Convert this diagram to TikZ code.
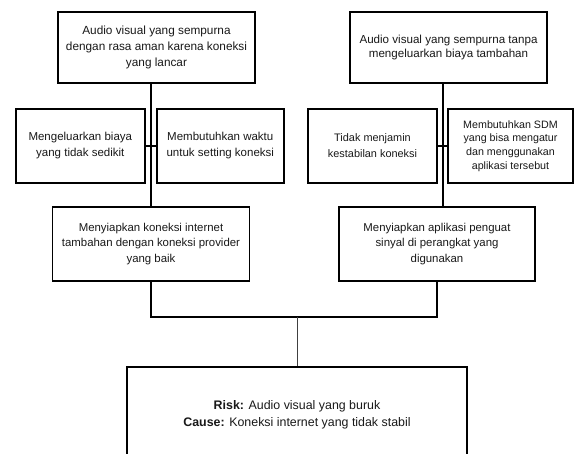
\documentclass[tikz,border=0pt]{standalone}
\usepackage{fontspec}
\setmainfont{Liberation Sans}
\begin{document}
\begin{tikzpicture}[x=1pt,y=-1pt,
  box/.style={draw=black,line width=1.4pt,fill=white,align=center,inner sep=0pt,text=black!90},
  conn/.style={draw=black,line width=1.4pt},
  thinconn/.style={draw=black!75,line width=0.9pt}]
\useasboundingbox (0,0) rectangle (578,454);
\clip (0,0) rectangle (578,454);
\fill[white] (0,0) rectangle (578,454);
% top boxes
\node[box,minimum width=197pt,minimum height=71pt,font=\fontsize{11.8}{16}\selectfont] (t1) at (156.5,47.5)
  {Audio visual yang sempurna\\dengan rasa aman karena koneksi\\yang lancar};
\node[box,minimum width=197pt,minimum height=71pt,font=\fontsize{11.6}{14.5}\selectfont] (t2) at (448.5,47.5)
  {Audio visual yang sempurna tanpa\\mengeluarkan biaya tambahan};
% small boxes
\node[box,minimum width=129pt,minimum height=74pt,font=\fontsize{11.5}{16}\selectfont] (a) at (80.3,146)
  {Mengeluarkan biaya\\yang tidak sedikit};
\node[box,minimum width=127pt,minimum height=74pt,font=\fontsize{11.5}{16}\selectfont] (b) at (220.3,146)
  {Membutuhkan waktu\\untuk setting koneksi};
\node[box,minimum width=129pt,minimum height=74pt,font=\fontsize{10.9}{16}\selectfont] (c) at (372.5,146)
  {Tidak menjamin\\kestabilan koneksi};
\node[box,minimum width=125pt,minimum height=74pt,font=\fontsize{10.7}{13.8}\selectfont] (d) at (510.5,146)
  {Membutuhkan SDM\\yang bisa mengatur\\dan menggunakan\\aplikasi tersebut};
% middle boxes
\node[box,minimum width=197pt,minimum height=74pt,font=\fontsize{11.4}{15.5}\selectfont] (m1) at (151,244)
  {Menyiapkan koneksi internet\\tambahan dengan koneksi provider\\yang baik};
\node[box,minimum width=196pt,minimum height=74pt,font=\fontsize{11.4}{15.5}\selectfont] (m2) at (437,244)
  {Menyiapkan aplikasi penguat\\sinyal di perangkat yang\\digunakan};
% bottom box
\node[box,minimum width=340pt,minimum height=95pt,font=\fontsize{12.4}{17}\selectfont] (r) at (297,414.5)
  {\textbf{Risk:} Audio visual yang buruk\\\textbf{Cause:} Koneksi internet yang tidak stabil};
% connectors
\draw[conn] (t1.south -| m1.north) -- (m1.north);
\draw[conn] ([xshift=-5.5pt]t2.south) -- ([xshift=-5.5pt]t2.south |- m2.north);
\draw[conn] (a.east) -- (b.west);
\draw[conn] (c.east) -- (d.west);
\coordinate (j) at (297,317);
\draw[conn] (m1.south) |- (j) -| (m2.south);
\draw[thinconn] (j) -- (r.north);
\end{tikzpicture}
\end{document}
